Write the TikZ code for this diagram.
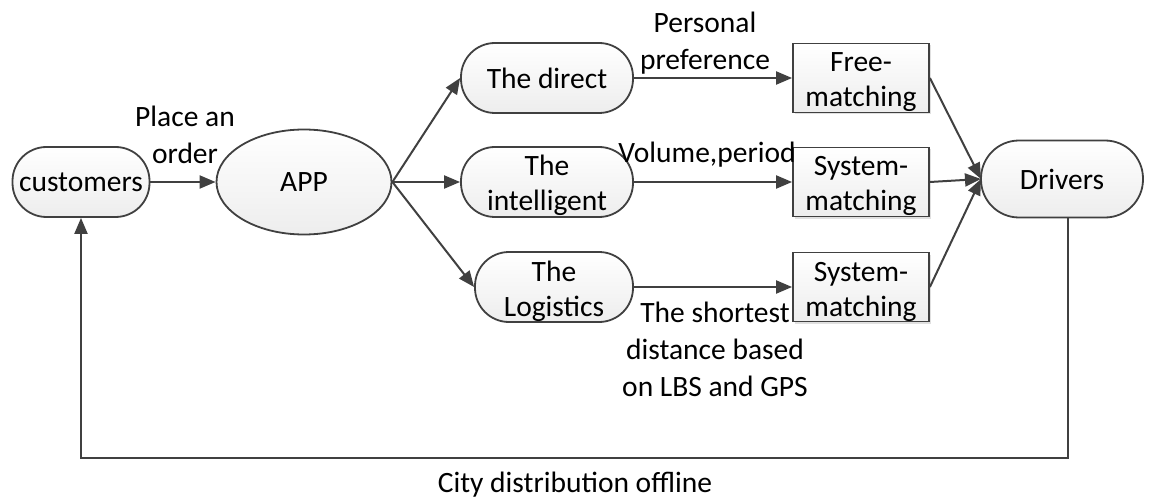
\documentclass[tikz,border=0pt]{standalone}
\usepackage{fontspec}
\setmainfont{Carlito}
\usetikzlibrary{arrows.meta,shadows,shapes.geometric}
\definecolor{lc}{HTML}{404040}
\tikzset{
  base/.style={draw=lc, line width=1.8pt, top color=white, bottom color=gray!14, text=black, align=center, inner sep=0pt, font=\fontsize{29.5}{35}\selectfont},
  pill/.style={base, rounded corners=34pt, minimum height=70pt},
  twol/.style={text height=62pt, text depth=4pt},
  boxn/.style={base, rectangle, twol, minimum width=136pt, minimum height=69pt, drop shadow={shadow xshift=2pt, shadow yshift=-2pt, fill=gray!40, opacity=0.6}},
  oval/.style={base, ellipse, minimum width=175pt, minimum height=105pt},
  conn/.style={draw=lc, line width=2pt, -{Triangle[length=16pt,width=13pt]}},
  lbl/.style={align=center, inner sep=0pt, font=\fontsize{29.5}{37}\selectfont}
}
\begin{document}
\begin{tikzpicture}[x=1pt,y=-1pt]
\useasboundingbox (0,0) rectangle (1152,500);
\node[pill, minimum width=137pt] (cust) at (81,182) {customers};
\node[oval] (app) at (304,182) {APP};
\node[pill, minimum width=172pt] (direct) at (547,78) {The direct};
\node[pill, twol, minimum width=172pt] (intel) at (547,182) {The\\intelligent};
\node[pill, twol, minimum width=158pt] (logi) at (554,287) {The\\Logistics};
\node[boxn] (free) at (861,78) {Free-\\matching};
\node[boxn] (sys1) at (861,182) {System-\\matching};
\node[boxn] (sys2) at (861,287) {System-\\matching};
\node[pill, minimum width=162pt, minimum height=77pt, rounded corners=38pt] (drv) at (1062,179) {Drivers};
\coordinate (dw) at (981,179);
\coordinate (c1) at (1068,458);
\coordinate (c2) at (81,458);

\draw[conn] (cust.east) -- (app.west);
\draw[conn] (app.east) -- (direct.west);
\draw[conn] (app.east) -- (intel.west);
\draw[conn] (app.east) -- (logi.west);
\draw[conn] (direct.east) -- (free.west);
\draw[conn] (intel.east) -- (sys1.west);
\draw[conn] (logi.east) -- (sys2.west);
\draw[conn] (free.east) -- (dw);
\draw[conn] (sys1.east) -- (dw);
\draw[conn] (sys2.east) -- (dw);
\draw[conn] (drv.south -| c1) -- (c1) -- (c2) -- (cust.south);

\node[lbl] (l1) at (185,135) {Place an\\order};
\node[lbl] (l2) at (705,43) {Personal\\preference};
\node[lbl] (l3) at (707,155) {Volume,period};
\node[lbl] (l4) at (715,349) {The shortest\\distance based\\on LBS and GPS};
\node[lbl] (l5) at (575,485) {City distribution offline};
\end{tikzpicture}
\end{document}
